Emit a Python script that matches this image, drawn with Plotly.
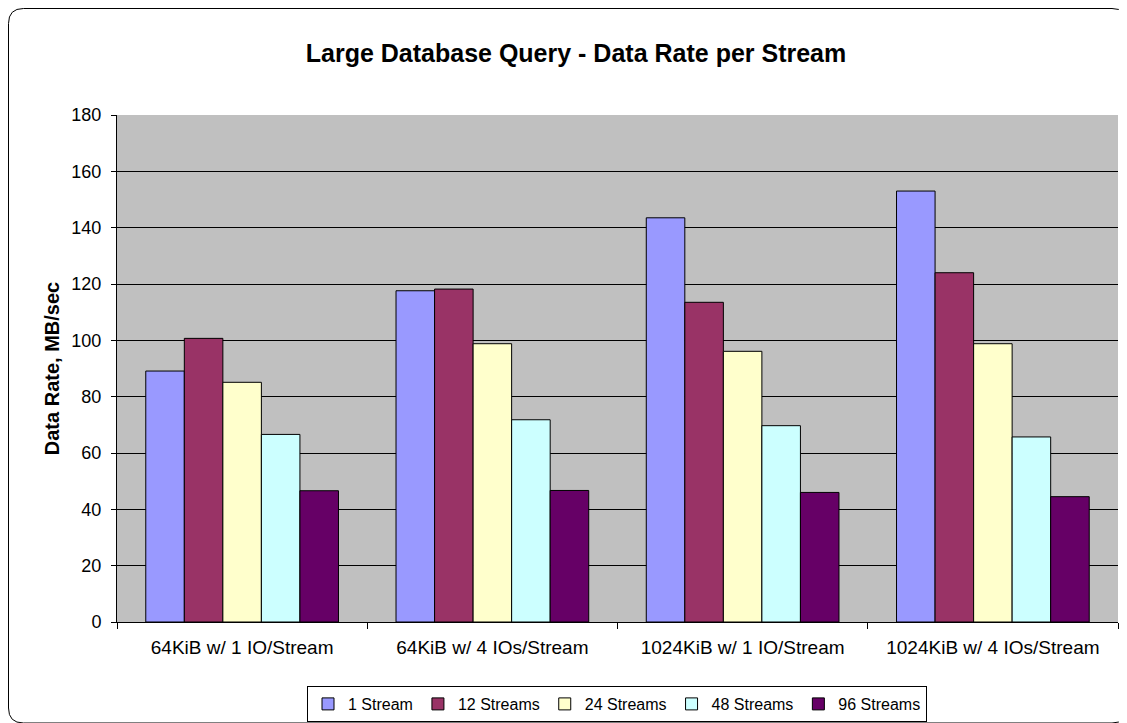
import plotly.graph_objects as go

categories = ["64KiB w/ 1 IO/Stream", "64KiB w/ 4 IOs/Stream",
              "1024KiB w/ 1 IO/Stream", "1024KiB w/ 4 IOs/Stream"]
series_names = ["1 Stream", "12 Streams", "24 Streams", "48 Streams", "96 Streams"]
s1 = [89.1, 117.6, 143.5, 153.0]
s12 = [100.7, 118.2, 113.5, 124.0]
s24 = [85.1, 98.8, 96.1, 98.8]
s48 = [66.6, 71.8, 69.7, 65.7]
s96 = [46.6, 46.7, 46.0, 44.5]
series_values = [s1, s12, s24, s48, s96]
colors = ["#9999FF", "#993366", "#FFFFCC", "#CCFFFF", "#660066"]
y_ticks = list(range(0, 181, 20))

# page is drawn with an 8px body margin, so the figure starts at (8, 8)
OFF = 8
W, H = 1127 - OFF, 723 - OFF
L, R, T, B = 117 - OFF, W - (1118 - OFF), 115 - OFF, H - (622 - OFF)

fig = go.Figure()
for name, vals, c in zip(series_names, series_values, colors):
    fig.add_trace(go.Bar(x=categories, y=vals, name=name,
                         marker=dict(color=c, line=dict(color="black", width=1))))

pw = W - L - R
ph = H - T - B
def px(X):  # page x -> paper x
    return (X - OFF - L) / pw
def py(Y):  # page y -> paper y
    return (H - B - (Y - OFF)) / ph

x0, x1, y0, y1 = px(8.5), px(1127), py(723), py(8.5)
rx, ry = 15 / pw, 15 / ph
path = (f"M {x0+rx},{y1} L {x1-rx},{y1} Q {x1},{y1} {x1},{y1-ry} "
        f"L {x1},{y0+ry} Q {x1},{y0} {x1-rx},{y0} L {x0+rx},{y0} "
        f"Q {x0},{y0} {x0},{y0+ry} L {x0},{y1-ry} Q {x0},{y1} {x0+rx},{y1} Z")

fig.update_layout(
    width=W, height=H,
    margin=dict(l=L, r=R, t=T, b=B, autoexpand=False),
    paper_bgcolor="white", plot_bgcolor="#C0C0C0",
    font=dict(family="Liberation Sans, Arial", size=18, color="black"),
    barmode="group", bargap=0.23, bargroupgap=0,
    title=dict(text="<b>Large Database Query - Data Rate per Stream</b>",
               x=(576 - OFF) / W, xanchor="center",
               y=1 - (53 - OFF) / H, yanchor="middle",
               font=dict(size=25)),
    xaxis=dict(type="category", showline=True, linecolor="black", linewidth=1,
               ticks="outside", tickson="boundaries", ticklen=6, tickcolor="black",
               showgrid=False, tickfont=dict(size=19), ticklabelstandoff=8,
               automargin=False),
    yaxis=dict(range=[0, 180], tickvals=y_ticks, showline=True, linecolor="black",
               linewidth=1, ticks="outside", ticklen=5, tickcolor="black",
               showgrid=True, gridcolor="black", gridwidth=1, zeroline=False,
               tickfont=dict(size=18), ticklabelstandoff=6, automargin=False,
               title=dict(text="<b>Data Rate, MB/sec</b>", font=dict(size=20), standoff=6)),
    legend=dict(orientation="h", x=(617 - OFF) / W, xanchor="center",
                xref="container", yref="container",
                y=1 - (686 - OFF) / H, yanchor="top",
                bordercolor="black", borderwidth=1, bgcolor="white",
                font=dict(size=16), traceorder="normal", itemwidth=30),
    shapes=[dict(type="path", path=path, xref="paper", yref="paper",
                 line=dict(color="black", width=1), fillcolor="rgba(0,0,0,0)", layer="below")],
)

fig.write_html("out.html")
